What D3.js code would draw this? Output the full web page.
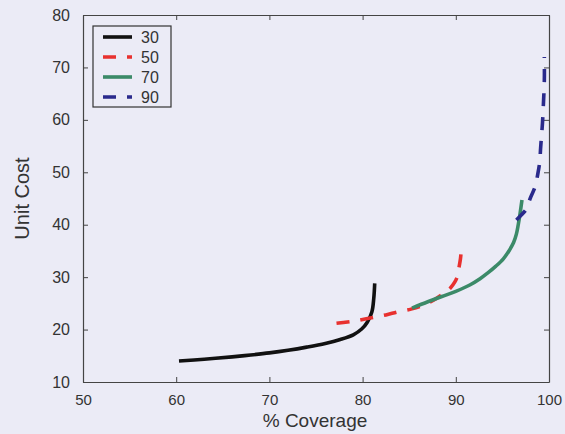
<!DOCTYPE html>
<html>
<head>
<meta charset="utf-8">
<script src="https://cdn.jsdelivr.net/npm/d3@7"></script>
<style>
  html, body { margin: 0; padding: 0; background: #ebebf6; }
  svg { display: block; }
  text { font-family: "Liberation Sans", Arial, sans-serif; fill: #333; }
</style>
</head>
<body>
<svg id="chart" width="565" height="434"></svg>
<script>
// Unit cost against % coverage for four target levels
const seriesNames = ["30", "50", "70", "90"];
const seriesColors = ["#111111", "#e8312f", "#3b8a68", "#2a2a8c"];
const seriesDash = [null, "13,11", null, "13,11"];

const cov30 = [60.3, 63, 66, 68, 70, 72, 74, 76, 77.6, 79, 79.9, 80.5, 81.0, 81.2, 81.3];
const cost30 = [14.0, 14.35, 14.8, 15.15, 15.55, 16.05, 16.65, 17.35, 18.1, 19.0, 20.1, 21.4, 23.4, 26.0, 28.8];

const cov50 = [77.2, 79, 80.8, 82.5, 83.8, 85.2, 86.3, 87.6, 88.7, 89.4, 89.9, 90.2, 90.3, 90.5, 90.6];
const cost50 = [21.2, 21.6, 22.2, 22.8, 23.4, 23.9, 24.5, 25.6, 26.9, 27.9, 29.1, 30.3, 31.4, 33.5, 35.5];

const cov70 = [85.3, 87.0, 88.5, 90.0, 91.5, 92.6, 93.5, 94.3, 95.1, 95.7, 96.2, 96.5, 96.7, 96.9, 97.1];
const cost70 = [24.1, 25.3, 26.3, 27.3, 28.5, 29.7, 30.9, 32.1, 33.5, 35.0, 36.6, 38.2, 40.0, 42.2, 44.7];

const cov90 = [96.5, 97.0, 97.5, 98.0, 98.5, 98.8, 99.0, 99.1, 99.2, 99.3, 99.4, 99.5, 99.5];
const cost90 = [40.9, 41.8, 42.8, 45.1, 47.2, 49.7, 51.9, 54.6, 57.0, 59.4, 63.0, 67.5, 72.0];

const xTicks = [50, 60, 70, 80, 90, 100];
const yTicks = [10, 20, 30, 40, 50, 60, 70, 80];

const allCov = [cov30, cov50, cov70, cov90];
const allCost = [cost30, cost50, cost70, cost90];

const svg = d3.select("#chart");
const m = { left: 83, right: 549, top: 15, bottom: 382 };

const x = d3.scaleLinear().domain([50, 100]).range([m.left, m.right]);
const y = d3.scaleLinear().domain([10, 80]).range([m.bottom, m.top]);

const axisColor = "#444";
const tickLen = 5;

// axes with inward ticks on all four sides
const gBottom = svg.append("g").attr("transform", `translate(0,${m.bottom})`)
  .call(d3.axisBottom(x).tickValues(xTicks).tickSizeInner(-tickLen).tickSizeOuter(0).tickPadding(12));
const gTop = svg.append("g").attr("transform", `translate(0,${m.top})`)
  .call(d3.axisTop(x).tickValues(xTicks).tickSizeInner(-tickLen).tickSizeOuter(0).tickFormat(""));
const gLeft = svg.append("g").attr("transform", `translate(${m.left},0)`)
  .call(d3.axisLeft(y).tickValues(yTicks).tickSizeInner(-tickLen).tickSizeOuter(0).tickPadding(13));
const gRight = svg.append("g").attr("transform", `translate(${m.right},0)`)
  .call(d3.axisRight(y).tickValues(yTicks).tickSizeInner(-tickLen).tickSizeOuter(0).tickFormat(""));

[gBottom, gTop, gLeft, gRight].forEach(g => {
  g.selectAll(".domain").attr("stroke", axisColor).attr("stroke-width", 1.2);
  g.selectAll(".tick line").attr("stroke", axisColor).attr("stroke-width", 1);
  g.selectAll(".tick text").attr("font-size", 16).style("fill", "#333")
    .attr("font-family", "Liberation Sans, Arial, sans-serif");
});
gBottom.selectAll(".tick text").attr("font-size", 15);

// axis titles
svg.append("text")
  .attr("x", (m.left + m.right) / 2 - 1).attr("y", 427)
  .attr("text-anchor", "middle").attr("font-size", 19)
  .text("% Coverage");
svg.append("text")
  .attr("transform", `translate(29,${(m.top + m.bottom) / 2}) rotate(-90)`)
  .attr("text-anchor", "middle").attr("font-size", 20)
  .text("Unit Cost");

// curves
const lineSmooth = d3.line().x(d => x(d[0])).y(d => y(d[1])).curve(d3.curveCatmullRom);

seriesNames.forEach((name, i) => {
  const pts = allCov[i].map((c, j) => [c, allCost[i][j]]);
  svg.append("path")
    .datum(pts)
    .attr("d", lineSmooth)
    .attr("fill", "none")
    .attr("stroke", seriesColors[i])
    .attr("stroke-width", 3.6)
    .attr("stroke-dasharray", seriesDash[i])
    .attr("stroke-linejoin", "round");
});

// legend
const lg = svg.append("g");
lg.append("rect")
  .attr("x", 93).attr("y", 26).attr("width", 78).attr("height", 81)
  .attr("fill", "#ebebf6").attr("stroke", "#333").attr("stroke-width", 1.2);
seriesNames.forEach((name, i) => {
  const yy = 37 + i * 20;
  lg.append("line")
    .attr("x1", 103).attr("x2", 132).attr("y1", yy).attr("y2", yy)
    .attr("stroke", seriesColors[i]).attr("stroke-width", 3.6)
    .attr("stroke-dasharray", seriesDash[i]);
  lg.append("text")
    .attr("x", 141).attr("y", yy + 6)
    .attr("font-size", 16)
    .text(name);
});
</script>
</body>
</html>
